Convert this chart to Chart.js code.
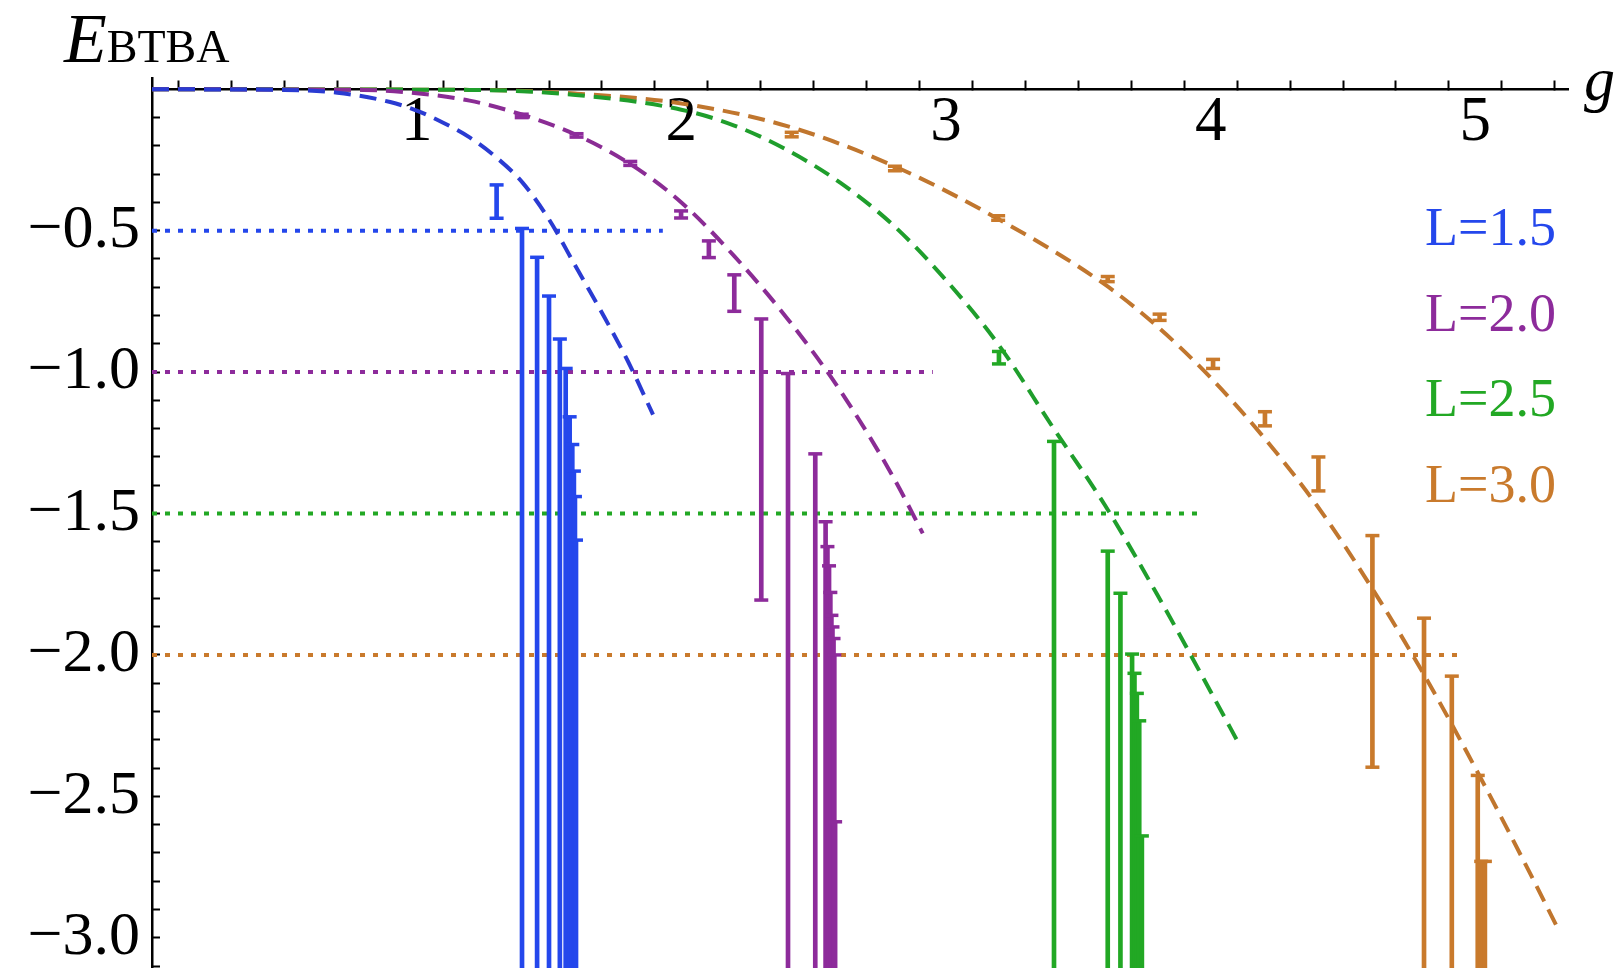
<!DOCTYPE html>
<html>
<head>
<title>E_BTBA vs g</title>
<style>
body { margin: 0; background: #fff; }
#wrap { position: relative; width: 1621px; height: 968px; }
</style>
</head>
<body>
<div id="wrap"><canvas id="myChart"></canvas></div>
<script src="https://cdn.jsdelivr.net/npm/chart.js"></script>
<script>
// values
const seriesNames = ['L=1.5', 'L=2.0', 'L=2.5', 'L=3.0'];
const levels = [-0.5, -1.0, -1.5, -2.0];          // dotted lines
const levelEnds = [1.93, 2.95, 3.96, 4.96];

// dashed fit curves
const fitG15 = [0, 0.5, 0.7, 0.9, 1.0, 1.1, 1.2, 1.3, 1.4, 1.5, 1.6, 1.7, 1.8, 1.893];
const fitE15 = [0, -0.002, -0.012, -0.045, -0.075, -0.118, -0.17, -0.24, -0.33, -0.46, -0.625, -0.79, -0.965, -1.15];
const fitG20 = [0, 0.8, 1.0, 1.2, 1.4, 1.6, 1.8, 2.0, 2.2, 2.4, 2.6, 2.8, 2.912];
const fitE20 = [0, -0.002, -0.014, -0.04, -0.09, -0.16, -0.26, -0.4, -0.59, -0.81, -1.065, -1.37, -1.57];
const fitG25 = [0, 1.2, 1.6, 2.0, 2.2, 2.4, 2.6, 2.8, 3.0, 3.2, 3.4, 3.6, 3.8, 4.0, 4.11];
const fitE25 = [0, -0.002, -0.02, -0.072, -0.128, -0.215, -0.33, -0.48, -0.675, -0.905, -1.19, -1.47, -1.79, -2.13, -2.32];
const fitG30 = [0, 1.2, 1.6, 2.0, 2.4, 2.8, 3.2, 3.6, 3.8, 4.0, 4.2, 4.4, 4.6, 4.8, 5.0, 5.2, 5.313];
const fitE30 = [0, -0.002, -0.015, -0.05, -0.13, -0.27, -0.46, -0.69, -0.84, -1.02, -1.23, -1.47, -1.75, -2.06, -2.4, -2.76, -2.97];

// error bars: position, upper end, lower end (-3.5 = runs off the bottom)
const barG15 = [1.302, 1.398, 1.455, 1.500, 1.541, 1.563, 1.578, 1.588, 1.594, 1.598, 1.602];
const barHi15 = [-0.338, -0.492, -0.594, -0.731, -0.883, -0.987, -1.158, -1.256, -1.35, -1.44, -1.594];
const barLo15 = [-0.456, -3.5, -3.5, -3.5, -3.5, -3.5, -3.5, -3.5, -3.5, -3.5, -3.5];

const barG20 = [1.397, 1.604, 1.807, 1.999, 2.104, 2.200, 2.302, 2.403, 2.506, 2.545, 2.552, 2.558, 2.563, 2.567, 2.571, 2.575, 2.578, 2.581];
const barHi20 = [-0.088, -0.157, -0.255, -0.43, -0.536, -0.656, -0.812, -1.005, -1.289, -1.529, -1.617, -1.685, -1.779, -1.86, -1.901, -1.942, -2.0, -2.59];
const barLo20 = [-0.1, -0.169, -0.269, -0.455, -0.595, -0.785, -1.806, -3.5, -3.5, -3.5, -3.5, -3.5, -3.5, -3.5, -3.5, -3.5, -3.5, -3.5];

const barG25 = [3.200, 3.408, 3.611, 3.659, 3.703, 3.712, 3.721, 3.730, 3.740];
const barHi25 = [-0.927, -1.245, -1.633, -1.782, -1.997, -2.065, -2.136, -2.233, -2.64];
const barLo25 = [-0.971, -3.5, -3.5, -3.5, -3.5, -3.5, -3.5, -3.5, -3.5];

const barG30 = [2.417, 2.807, 3.197, 3.611, 3.807, 4.009, 4.205, 4.407, 4.611, 4.806, 4.911, 5.009, 5.022, 5.036];
const barHi30 = [-0.152, -0.272, -0.447, -0.662, -0.795, -0.955, -1.14, -1.30, -1.578, -1.87, -2.075, -2.426, -2.73, -2.73];
const barLo30 = [-0.168, -0.288, -0.463, -0.68, -0.817, -0.987, -1.19, -1.42, -2.397, -3.5, -3.5, -3.5, -3.5, -3.5];

const colors = ['#2447ec', '#8d2b9b', '#22a824', '#c97a2c'];
const fitColors = ['#2a3bd2', '#8a2c94', '#1f9e2c', '#c0762e'];

const fits = [[fitG15, fitE15], [fitG20, fitE20], [fitG25, fitE25], [fitG30, fitE30]];
const bars = [[barG15, barHi15, barLo15], [barG20, barHi20, barLo20], [barG25, barHi25, barLo25], [barG30, barHi30, barLo30]];

const datasets = [];
for (let i = 0; i < 4; i++) {
    const [g, hi, lo] = bars[i];
    // caps: every upper end, and the lower end where it is inside the plot
    const caps = g.map((x, k) => ({x: x, y: hi[k]}));
    g.forEach((x, k) => { if (lo[k] > -3.2) caps.push({x: x, y: lo[k]}); });
    datasets.push({
        type: 'scatter', data: caps, pointStyle: 'line', pointRadius: 7,
        borderColor: colors[i], borderWidth: 3.5, order: 0
    });
    datasets.push({
        type: 'bar', data: g.map((x, k) => ({x: x, y: [lo[k], hi[k]]})),
        backgroundColor: colors[i], barThickness: 4, grouped: false, order: 1
    });
    datasets.push({
        type: 'line', data: fits[i][0].map((x, k) => ({x: x, y: fits[i][1][k]})),
        borderColor: fitColors[i], borderWidth: 4, borderDash: [17, 9],
        pointRadius: 0, cubicInterpolationMode: 'monotone', fill: false, order: 2
    });
    datasets.push({
        type: 'line', data: [{x: 0, y: levels[i]}, {x: levelEnds[i], y: levels[i]}],
        borderColor: colors[i], borderWidth: 4, borderDash: [5, 8],
        pointRadius: 0, fill: false, order: 3
    });
}

const serif = '"Liberation Serif", "Times New Roman", serif';
Chart.defaults.font.family = serif;

// axis names and the coloured key
const textLayer = {
    id: 'textLayer',
    afterDraw(chart) {
        const ctx = chart.ctx;
        ctx.save();
        ctx.fillStyle = '#000';
        ctx.textBaseline = 'alphabetic';
        ctx.font = 'italic 70px ' + serif;
        ctx.fillText('E', 64, 62);
        const w = ctx.measureText('E').width;
        ctx.font = '46px ' + serif;
        ctx.fillText('BTBA', 64 + w, 62);
        ctx.font = 'italic 62px ' + serif;
        ctx.fillText('g', 1584, 100);
        ctx.font = '54px ' + serif;
        seriesNames.forEach((s, i) => {
            ctx.fillStyle = colors[i];
            ctx.fillText(s, 1425, 245 + i * 85.5);
        });
        ctx.restore();
    }
};

const near = (v, s) => Math.abs(v / s - Math.round(v / s)) < 1e-6;

const ctx = document.getElementById('myChart').getContext('2d');
const myChart = new Chart(ctx, {
    type: 'scatter',
    data: { datasets: datasets },
    options: {
        responsive: true,
        maintainAspectRatio: false,
        animation: false,
        devicePixelRatio: 1,
        layout: { autoPadding: false, padding: { left: 0, top: 78, right: 53, bottom: 0 } },
        plugins: { legend: { display: false }, tooltip: { enabled: false } },
        scales: {
            x: {
                type: 'linear', position: { y: 0 }, min: 0, max: 5.35, offset: false,
                border: { display: true, color: '#000', width: 2.5 },
                grid: { drawOnChartArea: false, drawTicks: true, tickLength: -10, tickWidth: 2, tickColor: '#000' },
                ticks: {
                    stepSize: 0.2, includeBounds: false, autoSkip: false, maxRotation: 0,
                    padding: 6, color: '#000', font: { size: 63 },
                    callback: v => (near(v, 1) && v > 0.5) ? String(Math.round(v)) : ''
                },
                afterFit: s => { s.paddingLeft = 0; s.paddingRight = 0; s.paddingTop = 0; s.paddingBottom = 0; }
            },
            y: {
                type: 'linear', position: 'left', min: -3.107, max: 0.04,
                border: { display: true, color: '#000', width: 2.5 },
                grid: { drawOnChartArea: false, drawTicks: true, tickLength: -8, tickWidth: 2, tickColor: '#000' },
                ticks: {
                    stepSize: 0.1, includeBounds: false, autoSkip: false,
                    padding: 20, color: '#000', font: { size: 62 },
                    callback: v => (near(v, 0.5) && v < -0.25) ? '\u2212' + Math.abs(v).toFixed(1) : ''
                },
                afterFit: s => { s.width = 152; s.paddingTop = 0; s.paddingBottom = 0; s.paddingLeft = 0; s.paddingRight = 0; }
            }
        }
    },
    plugins: [textLayer]
});
</script>
</body>
</html>
